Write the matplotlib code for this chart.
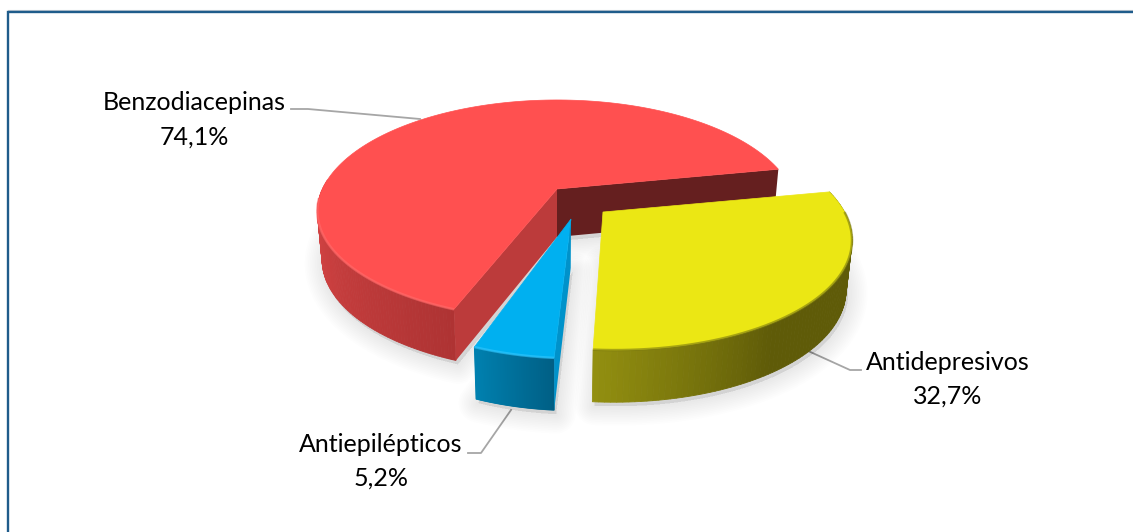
import numpy as np
import matplotlib
matplotlib.use('Agg')
import matplotlib.pyplot as plt
from matplotlib.colors import to_rgb
from matplotlib.patches import Polygon

categorias = ['Benzodiacepinas', 'Antiepilépticos', 'Antidepresivos']
valores = [74.1, 5.2, 32.7]

# estilo de cada porcion
c_top = ['#FF5050', '#00B0F0', '#EBE714']
c_wall_a = ['#DE4848', '#0081B0', '#928F10']
c_wall_b = ['#AE3333', '#005F85', '#5F5B08']
c_rim = ['#FF6C6C', '#35C8FF', '#7C7A10']
tips = [(0.0, 0.0), (0.0564, -0.2625), (0.1875, -0.204)]
# radio en x, radio en y hacia atras, radio en y hacia delante
radios = [(1.0, 1.0, 0.965), (0.915, 0.915, 0.915), (0.985, 0.93, 0.93)]

# perspectiva del disco
CX, CY, A, B, P = 557, 189, 234.6, 107.9, 0.212
START = 11
DEPTH = 48


def top(u, v):
    w = 1 + P * v
    return CX + A * u / w, CY - B * v / w


def bottom(u, v):
    x, y = top(u, v)
    w = 1 + P * np.asarray(v)
    return CX + (x - CX) * 0.98, y + DEPTH * w ** -0.3


def arc(i, a0, a1, n=160):
    t = np.radians(np.linspace(a0, a1, n))
    s = np.sin(t)
    rv = np.where(s > 0, radios[i][1], radios[i][2])
    return tips[i][0] + radios[i][0] * np.cos(t), tips[i][1] + rv * s


def xy(f, u, v):
    x, y = f(np.asarray(u, float), np.asarray(v, float))
    return np.column_stack([x, y])


fig = plt.figure(figsize=(11.33, 5.32), dpi=100)
ax = fig.add_axes([0, 0, 1, 1])
ax.set_xlim(0, 1133)
ax.set_ylim(532, 0)
ax.axis('off')

# angulos de cada porcion
sweep = np.array(valores) / sum(valores) * 360
ini = START + np.concatenate([[0], np.cumsum(sweep)[:-1]])
fin = ini + sweep

# sombra difusa debajo del grafico
for i in range(3):
    u, v = arc(i, ini[i], fin[i])
    u = np.append(u, tips[i][0])
    v = np.append(v, tips[i][1])
    pts = xy(bottom, u, v) + [2, 4]
    for lw in np.arange(28, 1, -2.5):
        ax.add_patch(Polygon(pts, closed=True, fc='#000000', ec='#000000', lw=lw,
                             alpha=0.008, joinstyle='round', zorder=1))

for i in range(3):
    z = 2 + i * 10
    tu, tv = tips[i]

    # pared exterior con degradado
    a0 = max(ini[i], 175)
    a1 = min(fin[i], 372)
    n = 90
    ang = np.linspace(a0, a1, n + 1)
    ca, cb = np.array(to_rgb(c_wall_a[i])), np.array(to_rgb(c_wall_b[i]))
    for k in range(n):
        u, v = arc(i, ang[k], ang[k + 1], 2)
        f = k / n
        if i == 2:
            f = min(f / 0.35, 1)
        col = ca + (cb - ca) * f
        quad = np.vstack([xy(top, u, v), xy(bottom, u, v)[::-1]])
        ax.add_patch(Polygon(quad, closed=True, fc=col, ec=col, lw=0.6, zorder=z))

    # caras del corte
    if i == 0:
        ue, ve = arc(i, fin[i], fin[i], 1)
        cara = np.vstack([xy(top, [tu], [tv]), xy(top, ue, ve), xy(bottom, ue, ve), xy(bottom, [tu], [tv])])
        ax.add_patch(Polygon(cara, closed=True, fc='#BC3B3B', ec='none', zorder=z + 2))
        ue, ve = arc(i, ini[i], ini[i], 1)
        cara = np.vstack([xy(top, [tu], [tv]), xy(top, ue, ve), xy(bottom, ue, ve), xy(bottom, [tu], [tv])])
        ax.add_patch(Polygon(cara, closed=True, fc='#651F1F', ec='none', zorder=z + 1))
    if i == 1:
        ue, ve = arc(i, fin[i], fin[i], 1)
        cara = np.vstack([xy(top, [tu], [tv]), xy(top, ue, ve), xy(bottom, ue, ve), xy(bottom, [tu], [tv])])
        ax.add_patch(Polygon(cara, closed=True, fc='#0092CA', ec='none', zorder=z + 2))

    # cara superior
    u, v = arc(i, ini[i], fin[i])
    sup = np.vstack([xy(top, [tu], [tv]), xy(top, u, v)])
    ax.add_patch(Polygon(sup, closed=True, fc=c_top[i], ec=c_top[i], lw=0.5, zorder=z + 3))

    # brillo del borde delantero
    u, v = arc(i, max(ini[i], 185), min(fin[i], 360))
    pts = xy(top, u, v)
    ax.plot(pts[:, 0], pts[:, 1], color=c_rim[i], lw=1.8, alpha=0.6, zorder=z + 4,
            solid_capstyle='butt')

# lineas guia
guias = [([291, 308, 420], [109, 109, 119]),
         ([468, 481, 511], [453, 453, 410]),
         ([806, 850, 861], [350, 370, 370])]
for gx, gy in guias:
    ax.plot(gx, gy, color='#A6A6A6', lw=1.3, zorder=0.5)

# etiquetas
pos_txt = [(194, 103, 137), (381, 445, 478), (948, 362, 396)]
for nombre, val, (x, y1, y2) in zip(categorias, valores, pos_txt):
    ax.text(x, y1, nombre, ha='center', va='center', fontsize=18, family='Lato', color='#000000', zorder=50)
    ax.text(x, y2, f'{val:.1f}%'.replace('.', ','), ha='center', va='center', fontsize=18,
            family='Lato', color='#000000', zorder=50)

# marco (solo arriba e izquierda se ven)
ax.plot([8, 1133], [10.2, 10.2], color='#C4CCD4', lw=0.8, zorder=0.2)
ax.plot([8, 8, 1133], [532, 11.8, 11.8], color='#1F5C8B', lw=1.7, zorder=0.3, solid_joinstyle='miter')

plt.savefig('out.png', dpi=100)
